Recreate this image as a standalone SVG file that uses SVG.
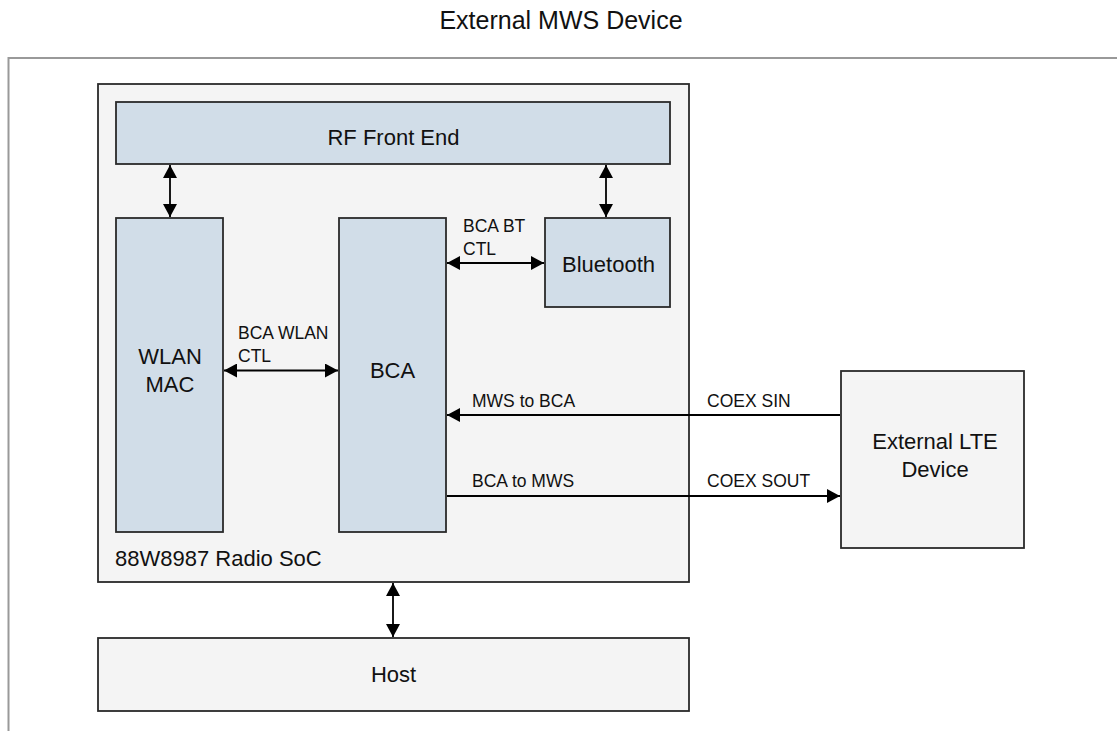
<svg xmlns="http://www.w3.org/2000/svg" width="1117" height="731" viewBox="0 0 1117 731">
<style>
.t{font-family:"Liberation Sans",Arial,sans-serif;fill:#111}
.big{font-size:22px}
.sm{font-size:17.5px}
.ttl{font-size:25px}
.box{fill:#d1dde8;stroke:#2a2a2a;stroke-width:1.8}
.gbox{fill:#f4f4f4;stroke:#2a2a2a;stroke-width:1.8}
.c{stroke:#000;stroke-width:1.8;fill:none}
</style>
<defs>
<marker id="ah" viewBox="0 0 13 14" refX="13" refY="7" markerWidth="13" markerHeight="14" markerUnits="userSpaceOnUse" orient="auto-start-reverse">
<path d="M0,0 L13,7 L0,14 Z" fill="#000"/>
</marker>
</defs>
<rect width="1117" height="731" fill="#fff"/>
<text class="t ttl" x="561" y="29" text-anchor="middle">External MWS Device</text>
<g id="frame"><path d="M1117,58 H8.5 V731" fill="none" stroke="#999" stroke-width="2"/></g>
<g id="soc"><rect class="gbox" x="98" y="84" width="591" height="498"/>
<text class="t big" x="115" y="566">88W8987 Radio SoC</text></g>
<g id="rf"><rect class="box" x="116" y="102" width="554" height="62"/>
<text class="t big" x="393.5" y="145" text-anchor="middle">RF Front End</text></g>
<g id="wlan"><rect class="box" x="116" y="218" width="107" height="314"/>
<text class="t big" x="170" y="364" text-anchor="middle">WLAN</text>
<text class="t big" x="170" y="392" text-anchor="middle">MAC</text></g>
<g id="bca"><rect class="box" x="339" y="218" width="107" height="314"/>
<text class="t big" x="392.5" y="378" text-anchor="middle">BCA</text></g>
<g id="bt"><rect class="box" x="545" y="218" width="125" height="89"/>
<text class="t big" x="608.5" y="271.5" text-anchor="middle">Bluetooth</text></g>
<g id="lte"><rect class="gbox" x="841" y="371" width="183" height="177"/>
<text class="t big" x="935" y="449" text-anchor="middle">External LTE</text>
<text class="t big" x="935" y="477" text-anchor="middle">Device</text></g>
<g id="host"><rect class="gbox" x="98" y="638" width="591" height="73"/>
<text class="t big" x="393.5" y="682" text-anchor="middle">Host</text></g>
<g id="connectors">
<line class="c" x1="170" y1="165" x2="170" y2="217" marker-start="url(#ah)" marker-end="url(#ah)"/>
<line class="c" x1="606" y1="165" x2="606" y2="217" marker-start="url(#ah)" marker-end="url(#ah)"/>
<line class="c" x1="447" y1="263" x2="544" y2="263" marker-start="url(#ah)" marker-end="url(#ah)"/>
<line class="c" x1="224" y1="370.5" x2="338" y2="370.5" marker-start="url(#ah)" marker-end="url(#ah)"/>
<line class="c" x1="840" y1="415" x2="447" y2="415" marker-end="url(#ah)"/>
<line class="c" x1="447" y1="496" x2="840" y2="496" marker-end="url(#ah)"/>
<line class="c" x1="393" y1="583" x2="393" y2="637" marker-start="url(#ah)" marker-end="url(#ah)"/>
<text class="t sm" x="463" y="232">BCA BT</text>
<text class="t sm" x="463" y="255">CTL</text>
<text class="t sm" x="238" y="339">BCA WLAN</text>
<text class="t sm" x="238" y="362">CTL</text>
<text class="t sm" x="472" y="407">MWS to BCA</text>
<text class="t sm" x="707" y="407">COEX SIN</text>
<text class="t sm" x="472" y="487">BCA to MWS</text>
<text class="t sm" x="707" y="487">COEX SOUT</text>
</g>
</svg>
